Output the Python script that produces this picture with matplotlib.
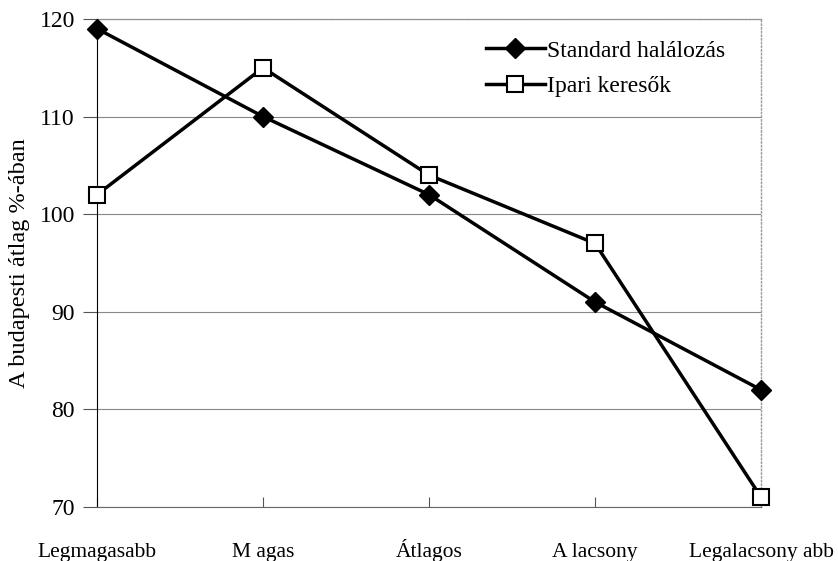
import matplotlib.pyplot as plt

plt.rcParams['font.family'] = ['Liberation Serif', 'DejaVu Serif']

categories = ["Legmagasabb", "M agas", "Átlagos", "A lacsony", "Legalacsony abb"]
standard = [119, 110, 102, 91, 82]
ipari = [102, 115, 104, 97, 71]

fig = plt.figure(figsize=(8.38, 5.61), dpi=100)
ax = fig.add_axes([0.1158, 0.0963, 0.7924, 0.8699])

x = range(len(categories))
ax.plot(x, standard, color='black', lw=2.5, marker='D', markersize=10.5,
        markerfacecolor='black', label="Standard halálozás", clip_on=False, zorder=3)
ax.plot(x, ipari, color='black', lw=2.5, marker='s', markersize=12,
        markerfacecolor='white', markeredgewidth=1.5, label="Ipari keresők",
        clip_on=False, zorder=3)

ax.set_xlim(0, 4)
ax.set_ylim(70, 120)
ax.set_yticks([70, 80, 90, 100, 110, 120])
ax.set_xticks(list(x))
ax.set_xticklabels(categories, va='baseline')
ax.tick_params(axis='both', width=0.8, color='#555555')
ax.tick_params(axis='x', pad=36, direction='in', length=7, labelsize=15.5)
ax.tick_params(axis='y', direction='out', length=10, pad=6, labelsize=17)
ax.yaxis.grid(True, color='#888888', lw=0.8)
ax.set_axisbelow(True)

ax.spines['left'].set_color('black')
ax.spines['bottom'].set_color('#666666')
for s in ['top', 'right']:
    ax.spines[s].set_color('#999999')
    ax.spines[s].set_linestyle(':')
    ax.spines[s].set_linewidth(1.0)

ax.set_ylabel("A budapesti átlag %-ában", fontsize=17.5, labelpad=7)

ax.legend(loc='upper right', bbox_to_anchor=(0.978, 1.0), frameon=False,
          fontsize=17, handlelength=2.5, handletextpad=0.1, labelspacing=0.6)

fig.savefig('out.png', dpi=100)
